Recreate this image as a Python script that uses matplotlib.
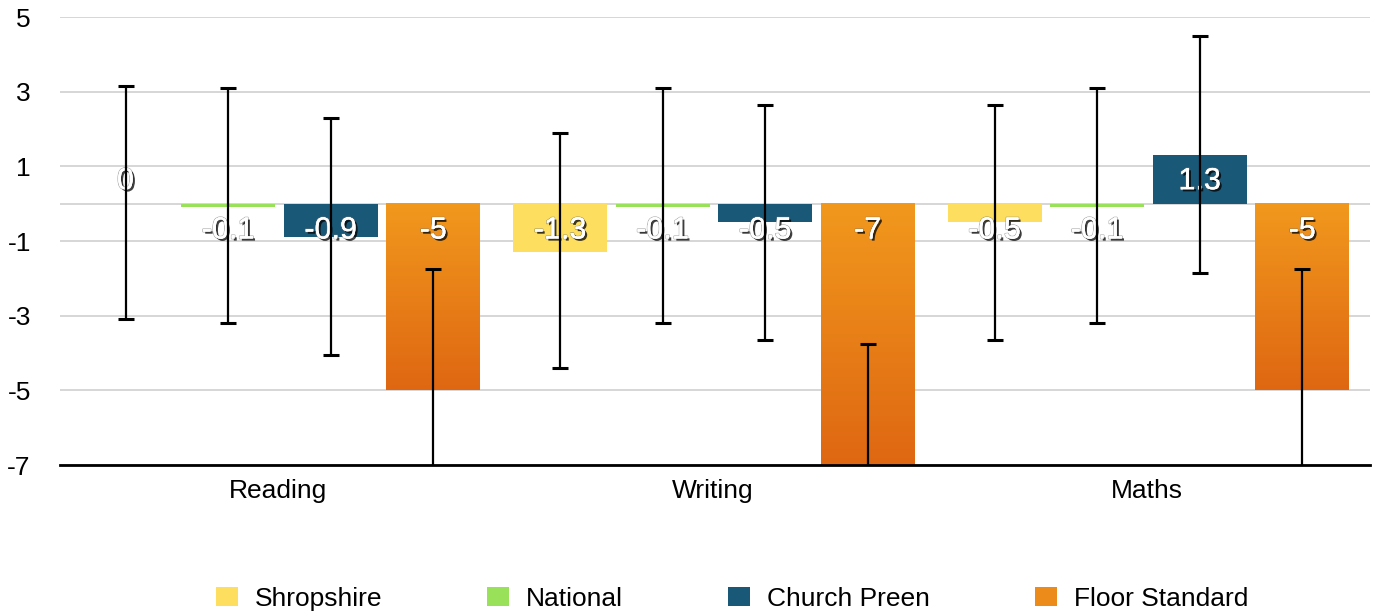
import numpy as np
import matplotlib
matplotlib.use("Agg")
import matplotlib.pyplot as plt
import matplotlib.patheffects as pe
from matplotlib.patches import Patch
from matplotlib.colors import LinearSegmentedColormap

plt.rcParams['font.family'] = ['Liberation Sans', 'DejaVu Sans']
plt.rcParams['axes.unicode_minus'] = False

# data
subjects = ['Reading', 'Writing', 'Maths']
series = ['Shropshire', 'National', 'Church Preen', 'Floor Standard']
values = {
    'Shropshire':     [0.0, -1.3, -0.5],
    'National':       [-0.1, -0.1, -0.1],
    'Church Preen':   [-0.9, -0.5, 1.3],
    'Floor Standard': [-5.0, -7.0, -5.0],
}
err_low = {
    'Shropshire':     [-3.1, -4.4, -3.65],
    'National':       [-3.2, -3.2, -3.2],
    'Church Preen':   [-4.05, -3.65, -1.85],
    'Floor Standard': [-8.25, -10.25, -8.25],
}
err_high = {
    'Shropshire':     [3.15, 1.9, 2.65],
    'National':       [3.1, 3.1, 3.1],
    'Church Preen':   [2.3, 2.65, 4.5],
    'Floor Standard': [-1.75, -3.75, -1.75],
}
colors = {
    'Shropshire': '#FDDE5F',
    'National': '#9AE15A',
    'Church Preen': '#1A5877',
    'Floor Standard': '#EC8A1A',
}
yticks = [5, 3, 1, -1, -3, -5, -7]

orange_grad = LinearSegmentedColormap.from_list('og', ['#F1981D', '#DF6712'])

fig = plt.figure(figsize=(13.73, 6.16), dpi=100)
ax = fig.add_axes([60/1373, 1 - 465/616, 1310/1373, 448/616])

x = np.arange(len(subjects))
step = 0.236
width = 0.216
shadow = [pe.withStroke(linewidth=1.2, foreground='#777777', alpha=0.6),
          pe.withSimplePatchShadow(offset=(1.5, -1.5), shadow_rgbFace='black', alpha=0.75),
          pe.Normal()]

for i, name in enumerate(series):
    pos = x + (i - 1.5) * step + 0.003
    vals = np.array(values[name])
    bars = ax.bar(pos, vals, width, color=colors[name], zorder=2)
    if name == 'Floor Standard':
        for b in bars:
            bx, bw = b.get_x(), b.get_width()
            y0, y1 = sorted([b.get_y(), b.get_y() + b.get_height()])
            grad = np.linspace(0, 1, 100).reshape(-1, 1)
            ax.imshow(grad, cmap=orange_grad, aspect='auto', zorder=2.1,
                      extent=[bx, bx + bw, y0, y1], origin='upper')
    lo = vals - np.array(err_low[name])
    hi = np.array(err_high[name]) - vals
    ax.errorbar(pos, vals, yerr=[lo, hi], fmt='none', ecolor='black',
                elinewidth=1.6, capsize=6, capthick=2.2, zorder=4)
    for p, v in zip(pos, vals):
        ty = 0.6 if v >= 0 else -0.72
        ax.text(p, ty, f'{v:g}', ha='center', va='center', color='white',
                fontsize=22, zorder=3, path_effects=shadow)

ax.set_xlim(-0.502, 2.513)
ax.set_ylim(-7, 5)
ax.set_yticks(yticks)
ax.set_xticks(x)
ax.set_xticklabels(subjects)
ax.tick_params(axis='both', length=0, labelsize=19, colors='black')
ax.tick_params(axis='y', pad=21)
ax.tick_params(axis='x', pad=10)
for t in ax.get_yticklabels():
    t.set_horizontalalignment('right')
ax.grid(axis='y', color='#CFCFCF', linewidth=1.2, zorder=0)
ax.set_axisbelow(True)
ax.axhline(0, color='#CFCFCF', linewidth=1.2, zorder=0.5)
for s in ['top', 'right', 'left']:
    ax.spines[s].set_visible(False)
ax.spines['bottom'].set_color('black')
ax.spines['bottom'].set_linewidth(2)
ax.spines['bottom'].set_zorder(5)

handles = [Patch(facecolor=colors[n], edgecolor='none') for n in series]
fig.legend(handles, series, loc='center', bbox_to_anchor=(732/1373, 1 - 599/616),
           ncol=4, frameon=False, fontsize=19, handlelength=0.83,
           handleheight=0.72, handletextpad=0.64, columnspacing=3.98)

fig.savefig('out.png', dpi=100)
